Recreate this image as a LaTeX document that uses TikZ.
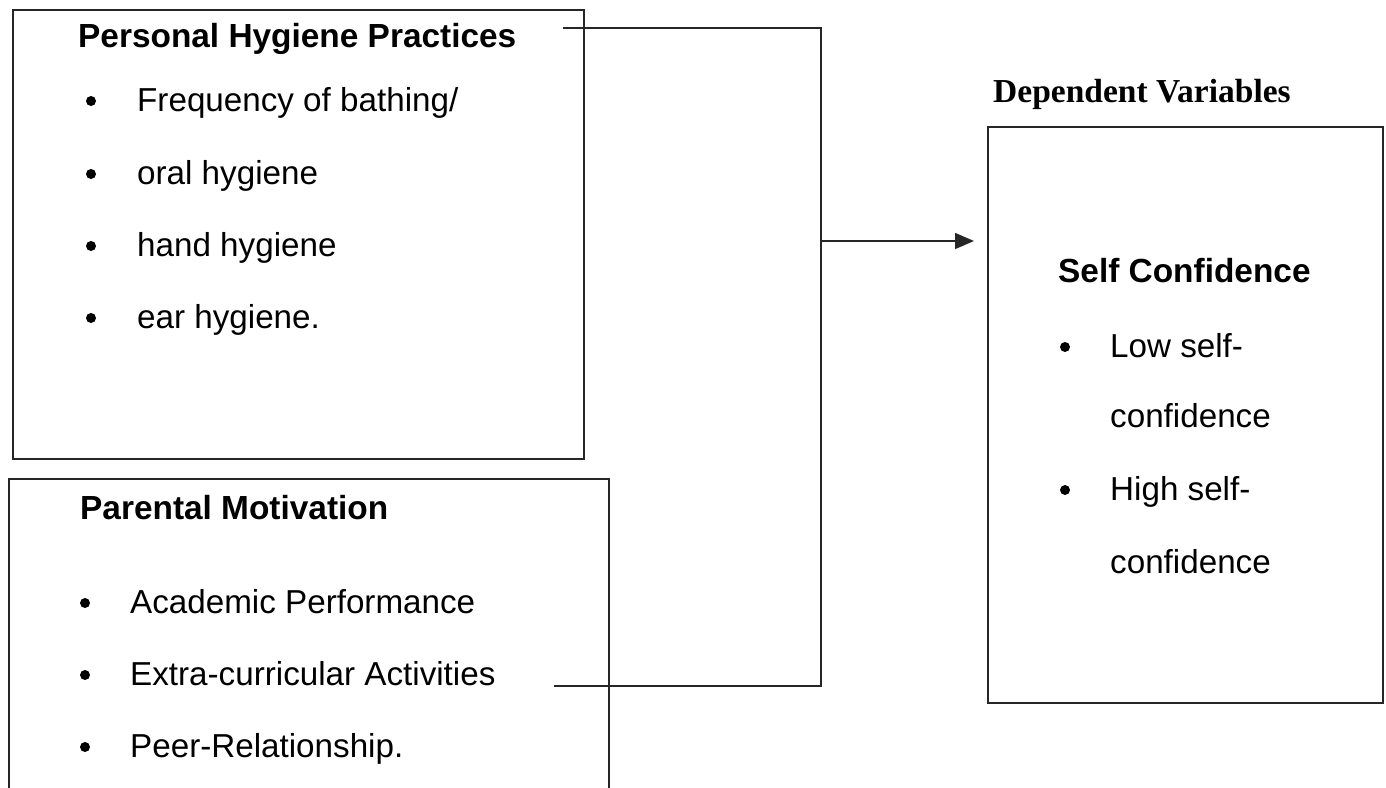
\documentclass[tikz,border=0pt]{standalone}
\usepackage{fontspec}
\setmainfont{Liberation Sans}
\newfontfamily\timesfont{Liberation Serif}
\usetikzlibrary{arrows.meta}
\tikzset{
  box/.style={draw=black!85, line width=1.6pt},
  conn/.style={draw=black!85, line width=1.6pt},
  txt/.style={anchor=base west, inner sep=0pt, font=\fontsize{33.2}{38}\selectfont},
  head/.style={txt, font=\fontsize{33.4}{38}\selectfont\bfseries},
  dhead/.style={txt, font=\fontsize{33.5}{38}\selectfont\timesfont\bfseries},
  dot/.style={circle, fill=black, inner sep=0pt, minimum size=10pt},
}
\begin{document}
\begin{tikzpicture}[x=1pt,y=-1pt]
\useasboundingbox (0,0) rectangle (1386,787);
\clip (0,0) rectangle (1386,787);
% boxes
\node[box, anchor=north west, minimum width=571pt, minimum height=449pt, inner sep=0pt] (b1) at (12,9) {};
\node[box, anchor=north west, minimum width=600pt, minimum height=340pt, inner sep=0pt] (b2) at (8,478) {};
\node[box, anchor=north west, minimum width=395pt, minimum height=576pt, inner sep=0pt] (b3) at (987,126) {};
% box 1 text
\node[head] (h1) at (78,47) {Personal Hygiene Practices};
\node[dot] (u11) at (91,101) {};
\node[txt] (t11) at (137,111) {Frequency of bathing/};
\node[dot] (u12) at (91,174) {};
\node[txt] (t12) at (137,184) {oral hygiene};
\node[dot] (u13) at (91,246) {};
\node[txt] (t13) at (137,256) {hand hygiene};
\node[dot] (u14) at (91,318) {};
\node[txt] (t14) at (137,328) {ear hygiene.};
% box 2 text
\node[head] (h2) at (80,519) {Parental Motivation};
\node[dot] (u21) at (85,603) {};
\node[txt] (t21) at (130,613) {Academic Performance};
\node[dot] (u22) at (85,675) {};
\node[txt] (t22) at (130,685) {Extra-curricular Activities};
\node[dot] (u23) at (85,747) {};
\node[txt] (t23) at (130,757) {Peer-Relationship.};
% box 3 text
\node[dhead] (dv) at (993,102) {Dependent Variables};
\node[head] (h3) at (1058,282) {Self Confidence};
\node[dot] (u31) at (1065,347) {};
\node[txt] (t31) at (1110,357) {Low self-};
\node[txt] (t32) at (1110,427) {confidence};
\node[dot] (u33) at (1065,490) {};
\node[txt] (t33) at (1110,500) {High self-};
\node[txt] (t34) at (1110,573) {confidence};
% connectors
\coordinate (c1) at (563,28);
\coordinate (c2) at (821,28);
\coordinate (c3) at (821,686);
\coordinate (c4) at (554,686);
\coordinate (a1) at (821,241);
\coordinate (a2) at (974,241);
\draw[conn] (c1) -- (c2) -- (c3) -- (c4);
\draw[conn, -{Triangle[length=19pt,width=16pt]}] (a1) -- (a2);
\end{tikzpicture}
\end{document}
